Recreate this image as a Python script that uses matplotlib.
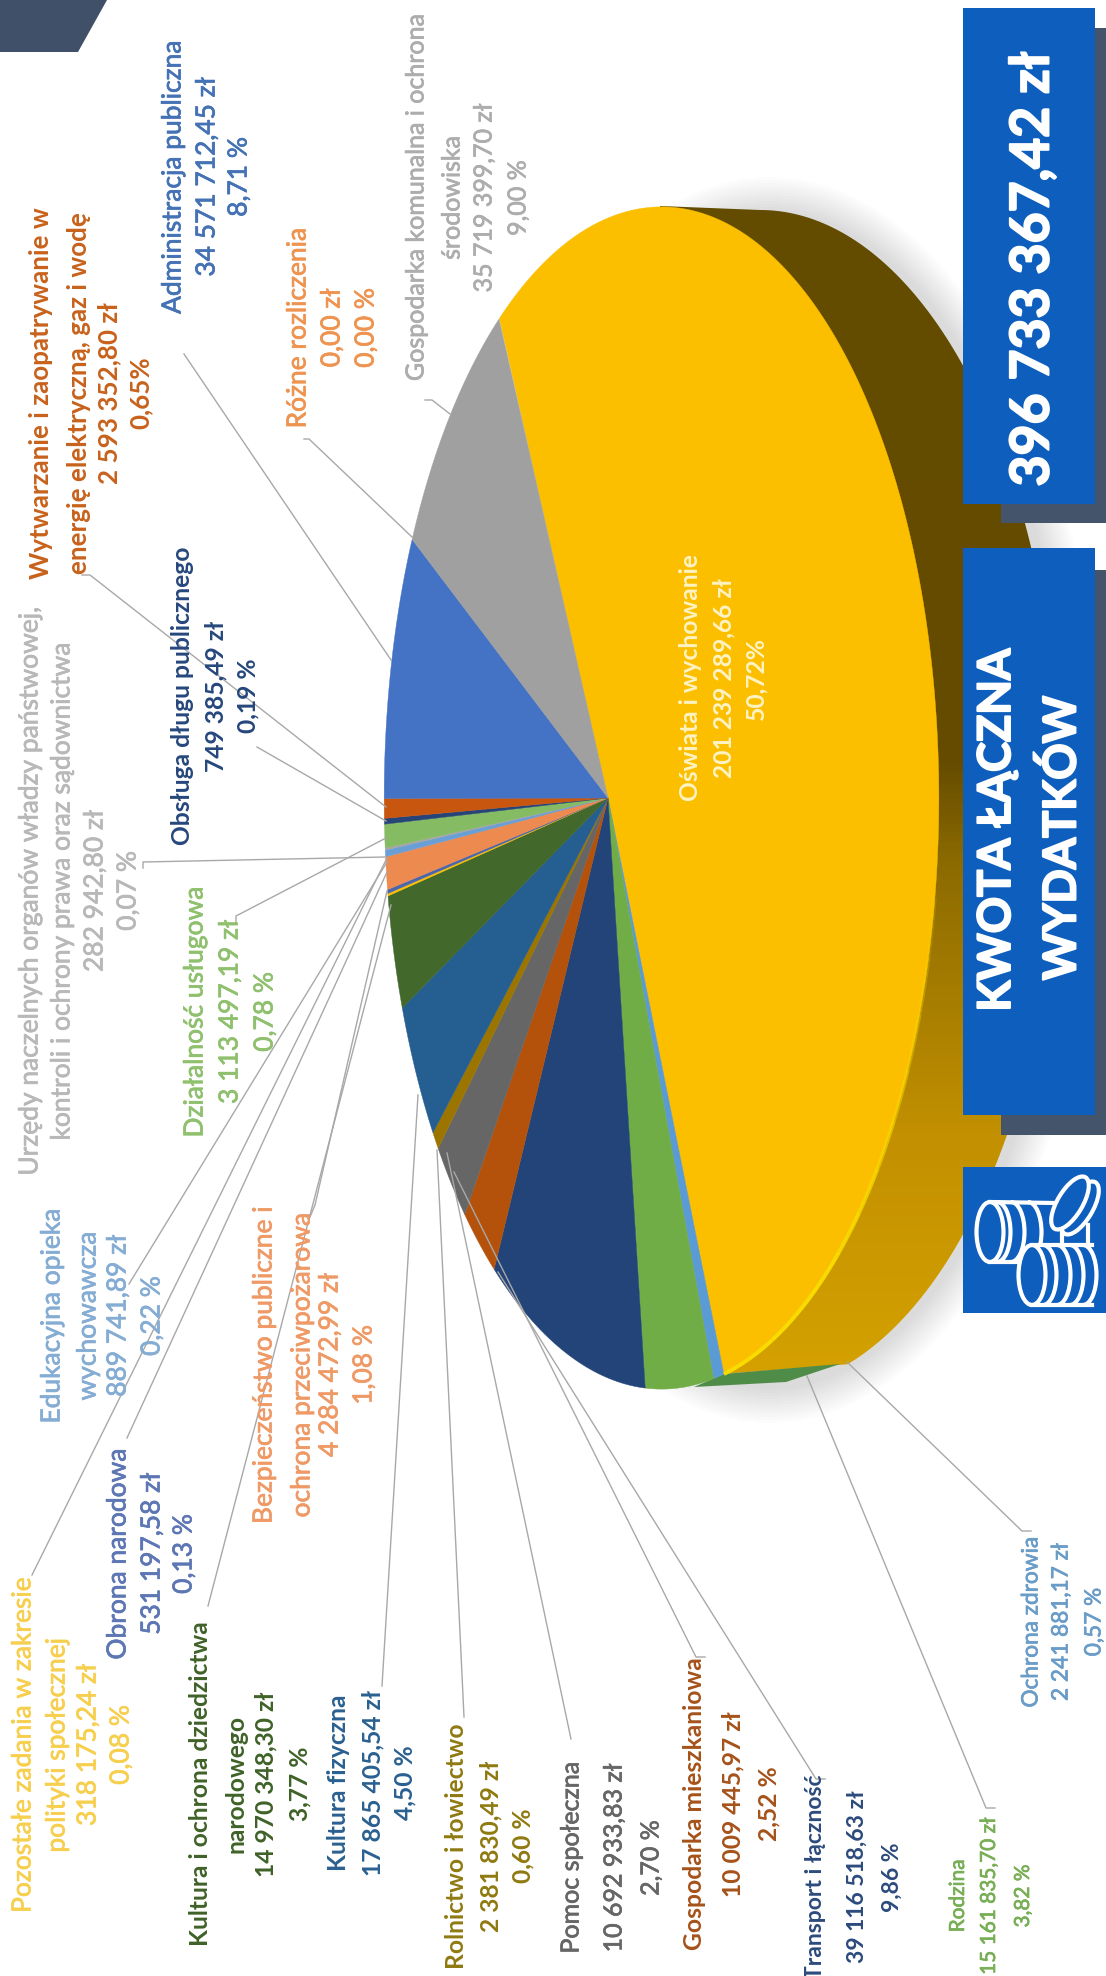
import numpy as np
import matplotlib
matplotlib.use("Agg")
import matplotlib.pyplot as plt
import matplotlib.patheffects as pe
from matplotlib.patches import Rectangle, Polygon, Ellipse, Arc
from matplotlib.colors import LinearSegmentedColormap

plt.rcParams['font.family'] = ['Lato', 'DejaVu Sans']

# slices, clockwise from the yellow one
names = ["Oświata i wychowanie", "Ochrona zdrowia", "Rodzina", "Transport i łączność",
         "Gospodarka mieszkaniowa", "Pomoc społeczna", "Rolnictwo i łowiectwo",
         "Kultura fizyczna", "Kultura i ochrona dziedzictwa\nnarodowego",
         "Pozostałe zadania w zakresie\npolityki społecznej", "Obrona narodowa",
         "Bezpieczeństwo publiczne i\nochrona przeciwpożarowa",
         "Edukacyjna opieka\nwychowawcza",
         "Urzędy naczelnych organów władzy państwowej,\nkontroli i ochrony prawa oraz sądownictwa",
         "Działalność usługowa", "Obsługa długu publicznego",
         "Wytwarzanie i zaopatrywanie w\nenergię elektryczną, gaz i wodę",
         "Administracja publiczna", "Różne rozliczenia",
         "Gospodarka komunalna i ochrona\nśrodowiska"]
amounts = ["201 239 289,66 zł", "2 241 881,17 zł", "15 161 835,70 zł", "39 116 518,63 zł",
           "10 009 445,97 zł", "10 692 933,83 zł", "2 381 830,49 zł",
           "17 865 405,54 zł", "14 970 348,30 zł",
           "318 175,24 zł", "531 197,58 zł",
           "4 284 472,99 zł", "889 741,89 zł", "282 942,80 zł",
           "3 113 497,19 zł", "749 385,49 zł",
           "2 593 352,80 zł", "34 571 712,45 zł", "0,00 zł", "35 719 399,70 zł"]
percents = ["50,72%", "0,57 %", "3,82 %", "9,86 %", "2,52 %", "2,70 %", "0,60 %", "4,50 %", "3,77 %",
            "0,08 %", "0,13 %", "1,08 %", "0,22 %", "0,07 %", "0,78 %", "0,19 %",
            "0,65%", "8,71 %", "0,00 %", "9,00 %"]
shares = [50.72, 0.57, 3.82, 9.86, 2.52, 2.70, 0.60, 4.50, 3.77,
          0.08, 0.13, 1.08, 0.22, 0.07, 0.78, 0.19, 0.65, 8.71, 0.00, 9.00]
total_label = "396 733 367,42 zł"
title_lines = ["KWOTA ŁĄCZNA", "WYDATKÓW"]

colors = ["#fbbf00", "#5b9bd5", "#70ad47", "#234479", "#b4520c", "#666666", "#9c7500",
          "#255e91", "#43682b", "#ffc000", "#4b66ac", "#ed8a4f", "#6a9fd6", "#a5a5a5",
          "#85bb62", "#264478", "#c8560f", "#4472c4", "#ed7d31", "#a0a0a0"]
text_colors = ["#fff3c4", "#6a9cc8", "#78ae55", "#2c4a7c", "#a5521a", "#666666", "#8f7a10",
               "#2a6090", "#3f6228", "#f7cf4f", "#5d76b4", "#ef9a66", "#85add4", "#b8b8b8",
               "#8fc06e", "#26477c", "#c8621c", "#4472b4", "#ee9450", "#adadad"]
bold = [True, False, False, True, True, False, True, True, True, False, False,
        False, False, False, False, True, True, False, False, False]
label_size = [17.7, 16.3, 15, 16.5, 17.7, 18, 17.7, 17.7, 17.7, 19, 19, 19, 19, 19, 19, 17.7, 18.7, 19, 19, 18]

# x of each text line and y centre, in pixels of the picture
label_x = [[690, 724, 756], [1031, 1061, 1094], [958, 989, 1023], [816, 857, 892],
           [695, 733, 769], [571, 614, 651], [457, 491, 523], [339, 373, 405],
           [200, 236, 266, 300], [23, 57, 88, 121], [118, 152, 184], [264, 302, 330, 364],
           [52, 88, 118, 152], [30, 62, 95, 128], [195, 230, 265], [182, 216, 248],
           [41, 79, 109, 141], [173, 207, 239], [298, 332, 366], [416, 452, 484, 518]]
label_y = [678, 1622, 1896, 1877, 1804, 1858, 1846, 1783, 1784, 1745, 1554, 1365, 1316,
           891, 1012, 696, 393, 177, 328, 198]

# leader lines: label end, elbow, pie end
leaders = [None,
           [(1031, 1531), (1022, 1531), (847, 1362)],
           [(995, 1808), (986, 1808), (807, 1376)],
           [(825, 1779), (816, 1779), (498, 1272)],
           [(705, 1657), (696, 1657), (454, 1172)],
           [(571, 1739), (447, 1153)],
           [(464, 1717), (437, 1150)],
           [(382, 1686), (418, 1095)],
           [(208, 1606), (391, 905)],
           [(32, 1575), (387, 858)],
           [(127, 1438), (387, 872)],
           [(310, 1217), (315, 1205), (387, 891)],
           [(129, 1284), (387, 862)],
           [(143, 868), (143, 862), (385, 857)],
           [(236, 922), (236, 916), (386, 838)],
           [(257, 747), (386, 821)],
           [(82, 575), (90, 575), (386, 807)],
           [(184, 354), (391, 660)],
           [(304, 439), (309, 439), (412, 537)],
           [(425, 400), (432, 400), (450, 414)]]

# projection of the pie top
apex_x, apex_y = 608, 798
persp = -0.193
scale_x, scale_y = 267, 580
start_angle = -116.2


def rim(theta):
    t = np.radians(theta)
    u, v = np.cos(t), np.sin(t)
    w = 1 + persp * u
    return apex_x + scale_x * u / w, apex_y + scale_y * v / w


fig = plt.figure(figsize=(11.06, 19.76), dpi=100)
ax = fig.add_axes([0, 0, 1, 1])
ax.axis('off')

# shadow round the pie
for i in range(12):
    ax.add_patch(Ellipse((770, 800), 2 * (300 + 3 * i), 2 * (590 + 3 * i), fc='black', ec='none',
                         alpha=0.012, zorder=1))

edges = start_angle + np.cumsum([0] + shares) * 3.6

# side wall
wall_t = np.radians(np.linspace(-90, 73, 200))
wall_xy = np.column_stack([760 + 300 * np.cos(wall_t), 800 + 590 * np.sin(wall_t)])
wall_xy = np.vstack([wall_xy, [rim(edges[1]), [660, 206]]])
wall = Polygon(wall_xy, closed=True, fc='none', ec='none', transform=ax.transData)
ax.add_patch(wall)
wall_cmap = LinearSegmentedColormap.from_list('wall', [(0, '#634b00'), (0.47, '#654c00'), (0.55, '#8b6a00'),
                                                       (0.78, '#c29000'), (1, '#d6a300')])
im = ax.imshow(np.linspace(0, 1, 400)[:, None], cmap=wall_cmap, extent=(600, 1106, 1400, 200),
               aspect='auto', zorder=2)
im.set_clip_path(wall)

# strip under the small slices at the bottom
ax.add_patch(Polygon([rim(edges[1]), (840, 1364), (786, 1382), (694, 1387)], fc='#4f8c48', ec='none', zorder=2.5))

# pie top
for i in range(len(shares)):
    if shares[i] == 0:
        continue
    th = np.linspace(edges[i], edges[i + 1], max(3, int(shares[i] * 8)))
    xs, ys = rim(th)
    pts = np.column_stack([np.r_[apex_x, xs], np.r_[apex_y, ys]])
    ax.add_patch(Polygon(pts, closed=True, fc=colors[i], ec=colors[i], lw=0.3, zorder=3))

# bright rim on the lower right, fading out upwards
rim_steps = np.linspace(8, edges[1], 13)
for k in range(12):
    th = np.linspace(rim_steps[k], rim_steps[k + 1], 12)
    ax.plot(*rim(th), color='#f8dc00', lw=2.8, alpha=min(1, 0.15 + k * 0.12), zorder=3.5,
            solid_capstyle='butt')

# leader lines
for line in leaders:
    if line is None:
        continue
    ax.plot([p[0] for p in line], [p[1] for p in line], color='#a8a8a8', lw=1.0, zorder=4)

# labels
for i in range(len(names)):
    lines = names[i].split('\n') + [amounts[i], percents[i]]
    for x, s in zip(label_x[i], lines):
        t = ax.text(x, label_y[i], s, rotation=90, ha='center', va='center',
                    fontsize=label_size[i],
                    color=text_colors[i], fontweight='bold' if bold[i] else 'normal', zorder=5)
        if not bold[i]:
            t.set_path_effects([pe.withStroke(linewidth=0.5, foreground=text_colors[i])])

# corner decoration
ax.add_patch(Polygon([(0, 0), (107, 0), (78, 52), (0, 52)], fc='#3f5068', ec='none', zorder=6))

# boxes
box_blue = '#0e5fbd'
shadow = '#44546a'
ax.add_patch(Rectangle((1001, 28), 105, 495, fc=shadow, ec='none', zorder=6))
ax.add_patch(Rectangle((963, 8), 132, 496, fc=box_blue, ec='none', zorder=7))
ax.add_patch(Rectangle((1001, 570), 105, 565, fc=shadow, ec='none', zorder=6))
ax.add_patch(Rectangle((963, 548), 132, 567, fc=box_blue, ec='none', zorder=7))
ax.add_patch(Rectangle((963, 1167), 143, 146, fc=box_blue, ec='none', zorder=7))

heavy = [pe.withStroke(linewidth=1.4, foreground='white')]
ax.text(1033, 269, total_label, rotation=90, ha='center', va='center', fontsize=38.5, color='white',
        fontweight='bold', zorder=8, path_effects=heavy)
ax.text(997, 830, title_lines[0], rotation=90, ha='center', va='center', fontsize=32.5, color='white',
        fontweight='bold', zorder=8, path_effects=heavy)
ax.text(1062, 838, title_lines[1], rotation=90, ha='center', va='center', fontsize=32.5, color='white',
        fontweight='bold', zorder=8, path_effects=heavy)

# coin icon
coin_lw = 3
# back stack
ax.add_patch(Ellipse((990, 1232), 27, 60, fc='none', ec='white', lw=coin_lw, zorder=9))
for cx in [997, 1011, 1028]:
    ax.add_patch(Arc((cx, 1232), 27, 60, theta1=-90, theta2=90, ec='white', lw=coin_lw, zorder=9))
ax.plot([990, 1055], [1202, 1203], color='white', lw=coin_lw, zorder=9)
ax.plot([990, 1020], [1262, 1262], color='white', lw=coin_lw, zorder=9)
ax.plot([1062, 1062], [1232, 1245], color='white', lw=coin_lw, zorder=9)
ax.plot([1088, 1088], [1225, 1245], color='white', lw=coin_lw, zorder=9)
# front stack
ax.add_patch(Rectangle((1032, 1245), 66, 60, fc=box_blue, ec='none', zorder=9))
ax.add_patch(Ellipse((1032, 1275), 27, 60, fc=box_blue, ec='white', lw=coin_lw, zorder=9.5))
for cx in [1043, 1057, 1070, 1083]:
    ax.add_patch(Arc((cx, 1275), 27, 60, theta1=-90, theta2=90, ec='white', lw=coin_lw, zorder=9.5))
ax.plot([1032, 1092], [1245, 1245], color='white', lw=coin_lw, zorder=9.5)
ax.plot([1032, 1092], [1305, 1305], color='white', lw=coin_lw, zorder=9.5)
# tilted coin
ax.add_patch(Ellipse((1080, 1208), 60, 25, angle=-59, fc=box_blue, ec='white', lw=coin_lw, zorder=9.6))
ax.add_patch(Ellipse((1070, 1203), 60, 25, angle=-59, fc=box_blue, ec='white', lw=coin_lw, zorder=9.7))

ax.set_xlim(0, 1106)
ax.set_ylim(1976, 0)
fig.savefig('out.png', dpi=100, facecolor='white')
